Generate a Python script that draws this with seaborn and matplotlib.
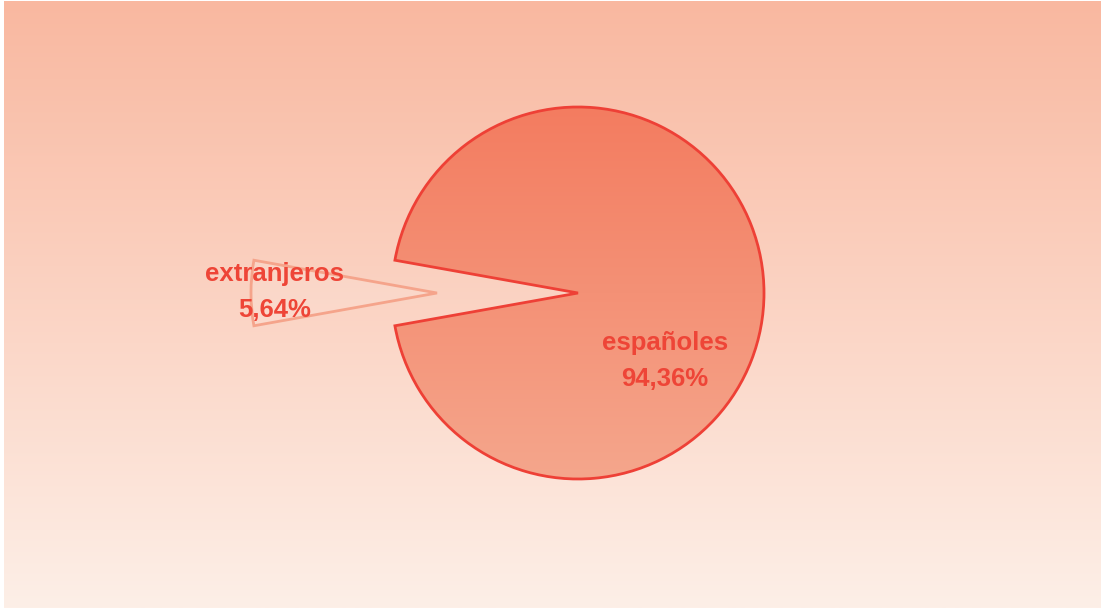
import numpy as np
import matplotlib
matplotlib.use("Agg")
import matplotlib.pyplot as plt
import seaborn as sns

# Chart data
categories = ["españoles", "extranjeros"]
shares = [94.36, 5.64]
share_labels = ["94,36%", "5,64%"]

# Colours
bg_top, bg_bottom = "#F9B8A0", "#FDEFE7"
pie_top, pie_bottom = "#F37C60", "#F5A68C"
edge_main = "#EE4036"
edge_small = "#F5A48B"
text_color = "#EE4537"

sns.set_theme(style="white")
plt.rcParams["font.family"] = ["Liberation Sans", "DejaVu Sans"]

fig = plt.figure(figsize=(11.06, 6.12), dpi=100)
ax = fig.add_axes([0, 0, 1, 1])

# gradient background
bg_cmap = sns.blend_palette([bg_top, bg_bottom], n_colors=256, as_cmap=True)
grad = np.linspace(0, 1, 256).reshape(-1, 1)
ax.imshow(grad, cmap=bg_cmap, extent=[4, 1101, 4, 611], aspect="auto",
          origin="upper", zorder=0)

# pie: small slice centred on the left, pulled out
cx, cy, r = 578, 319, 186
start = 180 - 360 * shares[1] / 100 / 2 - 360 * shares[0] / 100
wedges, _ = ax.pie(shares, explode=[0, 141], startangle=start, radius=r,
                   center=(cx, cy), counterclock=True,
                   wedgeprops=dict(linewidth=2))

main, small = wedges
main.set_facecolor("none")
main.set_edgecolor(edge_main)
main.set_zorder(3)
small.set_facecolor((1, 1, 1, 0.12))
small.set_edgecolor(edge_small)
small.set_zorder(3)

pie_cmap = sns.blend_palette([pie_top, pie_bottom], n_colors=256, as_cmap=True)
im = ax.imshow(grad, cmap=pie_cmap, extent=[cx - r, cx + r, cy - r, cy + r],
               aspect="auto", origin="upper", zorder=2)
im.set_clip_path(main)

# labels
ax.text(665, 251, f"{categories[0]}\n{share_labels[0]}", ha="center", va="center",
        fontsize=18.5, fontweight="bold", color=text_color, linespacing=1.68, zorder=4)
ax.text(275, 320, f"{categories[1]}\n{share_labels[1]}", ha="center", va="center",
        fontsize=18.5, fontweight="bold", color=text_color, linespacing=1.6, zorder=4)

ax.set_xlim(0, 1106)
ax.set_ylim(0, 612)
ax.set_aspect("equal")
ax.axis("off")

fig.savefig("out.png", dpi=100, facecolor="white")
